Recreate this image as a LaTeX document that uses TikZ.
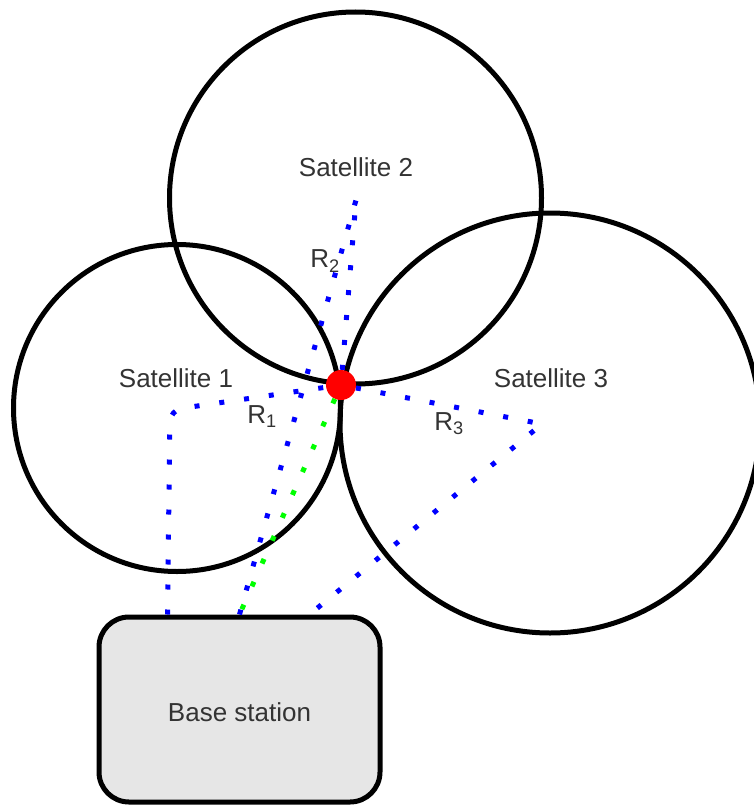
\documentclass[tikz,border=0pt]{standalone}
\usepackage{fontspec}
\setmainfont{Liberation Sans}
\usetikzlibrary{calc}
\definecolor{txt}{HTML}{333333}
\definecolor{boxfill}{HTML}{E6E6E6}
\definecolor{dotblue}{HTML}{0000FF}
\definecolor{dotgreen}{HTML}{00FF00}
\begin{document}
\begin{tikzpicture}[x=1pt,y=-1pt,
  orbit/.style={circle, draw=black, line width=5pt, inner sep=0pt},
  lbl/.style={text=txt, font=\fontsize{26}{31}\selectfont, inner sep=0pt},
  ray/.style={draw=dotblue, line width=5pt, dash pattern=on 5pt off 20pt},
  greenray/.style={ray, draw=dotgreen},
  fixdot/.style={circle, fill=red, minimum size=30pt, inner sep=0pt},
  basebox/.style={rectangle, rounded corners=30pt, draw=black, fill=boxfill,
    line width=5pt, minimum width=281pt, minimum height=185pt, inner sep=0pt}
]
\useasboundingbox (0,0) rectangle (754,805);
\clip (0,0) rectangle (754,805);

% coverage circles of the three satellites
\node[orbit, minimum size=327pt] (sat1) at (177,408) {};
\node[orbit, minimum size=372pt] (sat2) at (355.5,198) {};
\node[orbit, minimum size=420pt] (sat3) at (550,423) {};

% satellite names
\node[lbl] (n1) at (176,378) {Satellite 1};
\node[lbl] (n2) at (356,167) {Satellite 2};
\node[lbl] (n3) at (551,378) {Satellite 3};

% ground station
\node[basebox] (base) at (239.5,709.5) {};
\node[lbl] (bname) at (239.5,712) {Base station};

% position fix where the three circles meet
\node[fixdot] (fix) at (341,385) {};

% reference points of the ranging lines
\coordinate (s1c) at (170,410);
\coordinate (s2c) at (356,200);
\coordinate (s3c) at (542,424);
\coordinate (b1) at ($(base.north west)+(71,0)$);
\coordinate (b2) at ($(base.north west)+(143,0)$);
\coordinate (b3) at ($(base.north west)+(213,0)$);

% ranges and links
\draw[ray, rounded corners=12pt] (b1) -- (s1c) -- (fix);
\draw[ray] (b2) -- (s2c);
\draw[ray] (fix) -- (s2c);
\draw[ray] (fix) -- (s3c) -- (b3);
\draw[greenray] (fix) -- (base.north);

% range labels
\node[lbl] (r1) at (262,417) {R\textsubscript{1}};
\node[lbl] (r2) at (325,261) {R\textsubscript{2}};
\node[lbl] (r3) at (449,424) {R\textsubscript{3}};
\end{tikzpicture}
\end{document}
